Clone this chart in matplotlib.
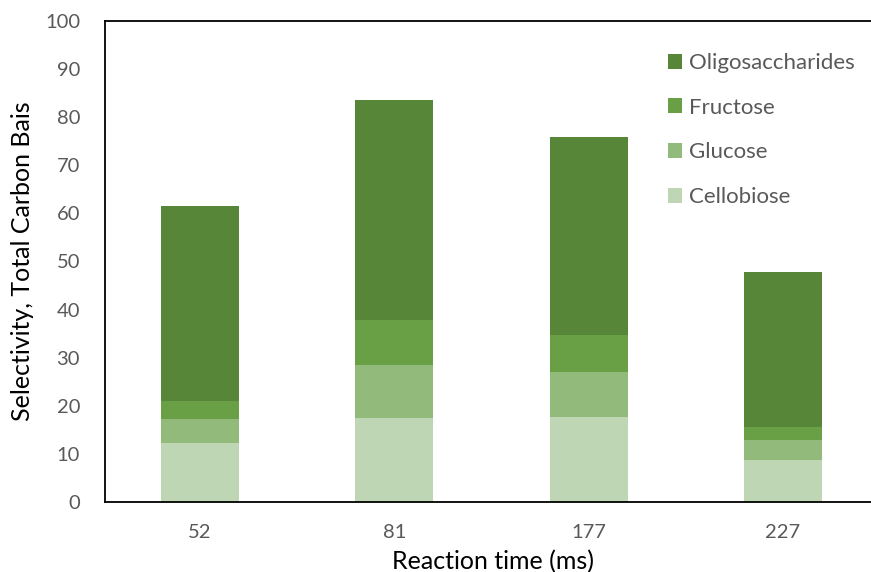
import matplotlib
matplotlib.use("Agg")
from matplotlib import pyplot as plt

# reaction times (ms) and stacked selectivities
times = ['52', '81', '177', '227']
cellobiose = [12.2, 17.5, 17.6, 8.7]
glucose = [5.0, 11.0, 9.5, 4.1]
fructose = [3.8, 9.3, 7.6, 2.8]
oligo = [40.6, 45.8, 41.2, 32.2]

names = ['Cellobiose', 'Glucose', 'Fructose', 'Oligosaccharides']
colors = ['#bfd6b4', '#92bb7b', '#6aa045', '#578638']

plt.rcParams['font.family'] = ['Lato', 'DejaVu Sans']

fig = plt.figure(figsize=(8.71, 5.72), dpi=100)
ax = fig.add_axes([105/871, 1-502/572, 775/871, 481/572])

x = list(range(len(times)))
bottom = [0]*len(times)
for vals, name, c in zip([cellobiose, glucose, fructose, oligo], names, colors):
    ax.bar(x, vals, width=0.4, bottom=bottom, color=c, label=name)
    bottom = [bottom[i] + vals[i] for i in range(len(vals))]

ax.set_xlim(-0.489, 3.499)
ax.set_ylim(0, 100)
ax.set_yticks(range(0, 101, 10))
ax.set_xticks(x)
ax.set_xticklabels(times)
ax.tick_params(axis='both', length=0, labelsize=14.5, colors='#595959')
ax.tick_params(axis='y', pad=18)
ax.tick_params(axis='x', pad=16)
for s in ax.spines.values():
    s.set_color('black')
    s.set_linewidth(1.3)

ax.set_xlabel('Reaction time (ms)', fontsize=18, color='black', labelpad=6)
ax.set_ylabel('Selectivity, Total Carbon Bais', fontsize=18, color='black', labelpad=8)

h, l = ax.get_legend_handles_labels()
leg = ax.legend(h[::-1], l[::-1], loc='upper left', bbox_to_anchor=(0.70, 0.975),
                frameon=False, fontsize=16, labelspacing=1.11,
                handlelength=0.65, handleheight=0.65, handletextpad=0.3)
for t in leg.get_texts():
    t.set_color('#595959')

fig.savefig('out.png', dpi=100)
